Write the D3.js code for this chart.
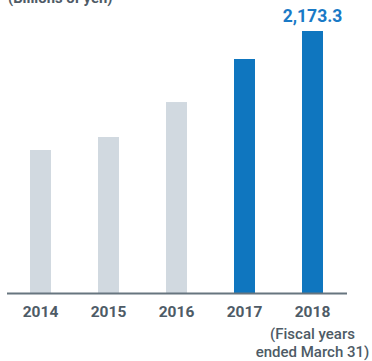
<!DOCTYPE html>
<html><head><meta charset="utf-8">
<script src="https://cdn.jsdelivr.net/npm/d3@7"></script>
<style>body{margin:0;background:#fff}svg{display:block}</style>
</head><body>
<script>
const years = ["2014","2015","2016","2017","2018"];
const values = [1186, 1294, 1584, 1941, 2173.3];
const highlight = [false, false, false, true, true];
const W = 372, H = 361;
const svg = d3.select("body").append("svg").attr("width", W).attr("height", H);
const x = d3.scaleBand().domain(years).range([6.5, 346.5]).paddingInner(47/68).paddingOuter(47/136);
const y = d3.scaleLinear().domain([0, 2173.3]).range([293, 31]);
const font = "Roboto, 'Open Sans', sans-serif";
svg.append("text").attr("x", 8).attr("y", 3).attr("font-family", font).attr("font-weight", 700)
  .attr("font-size", 14.8).attr("fill", "#4e5b66").text("(Billions of yen)");
svg.selectAll("rect.bar").data(years).join("rect").attr("class","bar")
  .attr("x", d => x(d)).attr("width", x.bandwidth())
  .attr("y", (d,i) => y(values[i])).attr("height", (d,i) => y(0) - y(values[i]))
  .attr("fill", (d,i) => highlight[i] ? "#0f76bf" : "#d1d9e0");
const ax = svg.append("g").attr("transform", "translate(0,293)")
  .call(d3.axisBottom(x).tickSize(0).tickPadding(13));
ax.select(".domain").attr("stroke", "#67757f").attr("stroke-width", 2);
ax.selectAll(".tick text").attr("font-family", font).attr("font-weight", 700)
  .attr("font-size", 15.5).attr("fill", "#4e5b66");
const last = years.length - 1;
const cx = x(years[last]) + x.bandwidth()/2;
svg.append("text").attr("x", cx).attr("y", 21.5)
  .attr("text-anchor", "middle").attr("font-family", font).attr("font-weight", 700)
  .attr("font-size", 17.5).attr("fill", "#1a7ac6").text(d3.format(",.1f")(values[last]));
const note = ["(Fiscal years", "ended March 31)"];
svg.selectAll("text.note").data(note).join("text").attr("class","note")
  .attr("x", cx).attr("y", (d,i) => 338.5 + i*18).attr("text-anchor", "middle")
  .attr("font-family", font).attr("font-weight", 500).attr("font-size", 15)
  .attr("fill", "#4e5b66").text(d => d);
</script>
</body></html>
